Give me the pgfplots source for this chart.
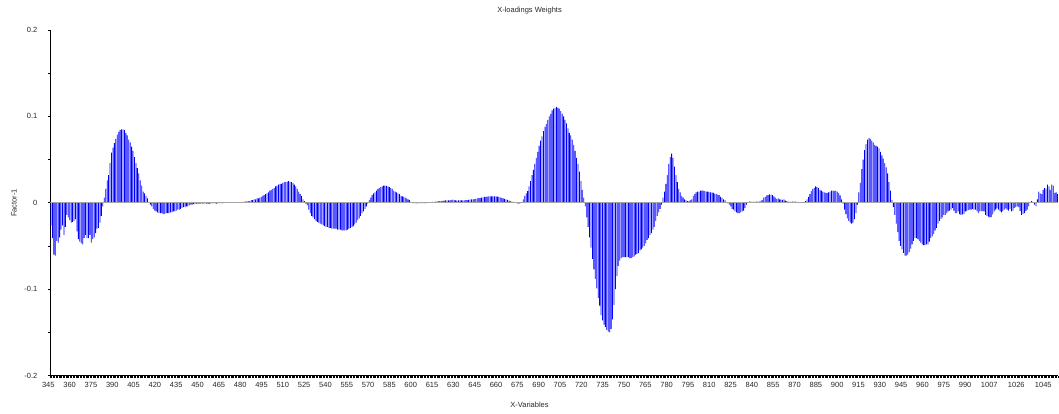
\documentclass[border=0pt]{standalone}
\usepackage{pgfplots}
\pgfplotsset{compat=1.18}
\usepackage{pgfplotstable}
\usepackage{fontspec}
\setmainfont{Liberation Sans}
\definecolor{txt}{RGB}{40,40,40}
\definecolor{zeroline}{RGB}{165,165,165}
\pgfplotstableread[row sep=\\, header=false]{
-0.026\\ -0.041\\ -0.060\\ -0.061\\ -0.044\\ -0.046\\ -0.040\\ -0.031\\ -0.026\\ -0.037\\
-0.028\\ -0.014\\ -0.017\\ -0.020\\ -0.023\\ -0.022\\ -0.021\\ -0.019\\ -0.033\\ -0.042\\
-0.045\\ -0.047\\ -0.048\\ -0.041\\ -0.037\\ -0.041\\ -0.041\\ -0.037\\ -0.046\\ -0.042\\
-0.040\\ -0.035\\ -0.030\\ -0.029\\ -0.023\\ -0.015\\ -0.004\\ 0.006\\ 0.016\\ 0.026\\
0.032\\ 0.046\\ 0.058\\ 0.064\\ 0.069\\ 0.074\\ 0.079\\ 0.082\\ 0.084\\ 0.085\\
0.085\\ 0.084\\ 0.081\\ 0.078\\ 0.073\\ 0.070\\ 0.065\\ 0.060\\ 0.053\\ 0.046\\
0.040\\ 0.034\\ 0.026\\ 0.020\\ 0.013\\ 0.011\\ 0.008\\ 0.005\\ 0.001\\ -0.002\\
-0.004\\ -0.007\\ -0.009\\ -0.010\\ -0.011\\ -0.012\\ -0.012\\ -0.012\\ -0.013\\ -0.013\\
-0.012\\ -0.012\\ -0.012\\ -0.011\\ -0.011\\ -0.010\\ -0.010\\ -0.009\\ -0.008\\ -0.008\\
-0.007\\ -0.006\\ -0.005\\ -0.005\\ -0.004\\ -0.004\\ -0.003\\ -0.002\\ -0.002\\ -0.0015\\
-0.0015\\ -0.001\\ -0.001\\ -0.001\\ -0.001\\ -0.001\\ -0.0008\\ -0.0008\\ -0.001\\ -0.0012\\
-0.001\\ -0.0008\\ -0.0006\\ -0.0005\\ -0.0008\\ -0.001\\ -0.0008\\ -0.0005\\ -0.0004\\ -0.0003\\
-0.0003\\ -0.0002\\ 0.0002\\ 0.0003\\ 0.0004\\ 0.0003\\ 0.0004\\ 0.0005\\ 0.0006\\ 0.0006\\
0.0007\\ 0.0008\\ 0.0009\\ 0.001\\ 0.0012\\ 0.0014\\ 0.0016\\ 0.002\\ 0.002\\ 0.003\\
0.003\\ 0.004\\ 0.004\\ 0.005\\ 0.005\\ 0.006\\ 0.007\\ 0.008\\ 0.009\\ 0.010\\
0.011\\ 0.012\\ 0.014\\ 0.015\\ 0.016\\ 0.017\\ 0.019\\ 0.020\\ 0.021\\ 0.022\\
0.022\\ 0.023\\ 0.024\\ 0.024\\ 0.0245\\ 0.025\\ 0.0245\\ 0.024\\ 0.023\\ 0.021\\
0.019\\ 0.016\\ 0.013\\ 0.010\\ 0.008\\ 0.004\\ 0.002\\ -0.001\\ -0.003\\ -0.008\\
-0.012\\ -0.015\\ -0.017\\ -0.019\\ -0.021\\ -0.022\\ -0.023\\ -0.024\\ -0.025\\ -0.026\\
-0.027\\ -0.028\\ -0.028\\ -0.029\\ -0.029\\ -0.030\\ -0.030\\ -0.030\\ -0.030\\ -0.031\\
-0.031\\ -0.031\\ -0.032\\ -0.032\\ -0.032\\ -0.032\\ -0.031\\ -0.030\\ -0.029\\ -0.028\\
-0.027\\ -0.025\\ -0.023\\ -0.020\\ -0.018\\ -0.015\\ -0.012\\ -0.010\\ -0.007\\ -0.004\\
-0.001\\ 0.003\\ 0.006\\ 0.009\\ 0.011\\ 0.012\\ 0.014\\ 0.016\\ 0.017\\ 0.018\\
0.019\\ 0.020\\ 0.020\\ 0.0195\\ 0.019\\ 0.018\\ 0.017\\ 0.016\\ 0.014\\ 0.013\\
0.012\\ 0.011\\ 0.010\\ 0.008\\ 0.0075\\ 0.007\\ 0.006\\ 0.005\\ 0.004\\ 0.003\\
0.001\\ -0.0003\\ -0.0005\\ -0.0005\\ -0.0006\\ -0.0005\\ -0.0005\\ -0.0004\\ -0.0005\\ -0.0005\\
-0.0004\\ -0.0003\\ -0.0002\\ 0.0003\\ 0.0008\\ 0.001\\ 0.0012\\ 0.0013\\ 0.0015\\ 0.0016\\
0.0018\\ 0.002\\ 0.0023\\ 0.0025\\ 0.0027\\ 0.0027\\ 0.0027\\ 0.0028\\ 0.0032\\ 0.0038\\
0.0032\\ 0.0028\\ 0.0026\\ 0.0027\\ 0.0027\\ 0.0027\\ 0.0028\\ 0.0028\\ 0.003\\ 0.0032\\
0.0035\\ 0.0038\\ 0.004\\ 0.004\\ 0.0043\\ 0.0046\\ 0.005\\ 0.0054\\ 0.0058\\ 0.006\\
0.0064\\ 0.0068\\ 0.007\\ 0.0072\\ 0.0073\\ 0.0074\\ 0.0074\\ 0.0074\\ 0.0073\\ 0.0073\\
0.0072\\ 0.0068\\ 0.0062\\ 0.0056\\ 0.005\\ 0.0045\\ 0.004\\ 0.0035\\ 0.0028\\ 0.002\\
0.0014\\ 0.001\\ 0.0005\\ 0.0003\\ -0.0008\\ -0.0012\\ -0.0005\\ 0.0005\\ 0.004\\ 0.008\\
0.011\\ 0.0135\\ 0.019\\ 0.025\\ 0.032\\ 0.038\\ 0.045\\ 0.052\\ 0.059\\ 0.066\\
0.072\\ 0.077\\ 0.083\\ 0.088\\ 0.091\\ 0.096\\ 0.100\\ 0.103\\ 0.107\\ 0.109\\
0.110\\ 0.111\\ 0.110\\ 0.109\\ 0.106\\ 0.103\\ 0.100\\ 0.096\\ 0.092\\ 0.086\\
0.081\\ 0.078\\ 0.073\\ 0.067\\ 0.060\\ 0.052\\ 0.045\\ 0.036\\ 0.025\\ 0.015\\
0.006\\ -0.004\\ -0.017\\ -0.028\\ -0.040\\ -0.052\\ -0.065\\ -0.077\\ -0.088\\ -0.099\\
-0.110\\ -0.119\\ -0.130\\ -0.136\\ -0.141\\ -0.144\\ -0.147\\ -0.149\\ -0.150\\ -0.146\\
-0.135\\ -0.118\\ -0.100\\ -0.085\\ -0.073\\ -0.067\\ -0.064\\ -0.063\\ -0.063\\ -0.063\\
-0.063\\ -0.063\\ -0.064\\ -0.064\\ -0.063\\ -0.062\\ -0.060\\ -0.059\\ -0.058\\ -0.055\\
-0.054\\ -0.052\\ -0.050\\ -0.047\\ -0.043\\ -0.041\\ -0.037\\ -0.035\\ -0.031\\ -0.028\\
-0.021\\ -0.015\\ -0.011\\ -0.007\\ -0.002\\ 0.006\\ 0.013\\ 0.022\\ 0.032\\ 0.045\\
0.053\\ 0.057\\ 0.052\\ 0.042\\ 0.032\\ 0.024\\ 0.016\\ 0.012\\ 0.008\\ 0.006\\
0.004\\ 0.003\\ 0.002\\ 0.002\\ 0.003\\ 0.004\\ 0.008\\ 0.010\\ 0.012\\ 0.013\\
0.013\\ 0.014\\ 0.014\\ 0.014\\ 0.0135\\ 0.013\\ 0.013\\ 0.0125\\ 0.012\\ 0.012\\
0.0115\\ 0.0105\\ 0.010\\ 0.0095\\ 0.009\\ 0.007\\ 0.006\\ 0.004\\ 0.003\\ 0.001\\
-0.0005\\ -0.002\\ -0.004\\ -0.007\\ -0.008\\ -0.010\\ -0.011\\ -0.012\\ -0.012\\ -0.011\\
-0.010\\ -0.009\\ -0.006\\ -0.002\\ 0.0005\\ 0.0015\\ 0.0015\\ 0.001\\ 0.001\\ 0.0012\\
0.0015\\ 0.0015\\ 0.0015\\ 0.0025\\ 0.0035\\ 0.006\\ 0.007\\ 0.0085\\ 0.009\\ 0.0097\\
0.0095\\ 0.009\\ 0.0075\\ 0.006\\ 0.0046\\ 0.005\\ 0.004\\ 0.0038\\ 0.0035\\ 0.004\\
0.0025\\ 0.002\\ 0.0015\\ 0.001\\ 0.0012\\ 0.0015\\ 0.0015\\ 0.0015\\ 0.001\\ 0.0005\\
0.0005\\ 0.0005\\ 0.0005\\ 0.001\\ 0.002\\ 0.004\\ 0.007\\ 0.010\\ 0.0135\\ 0.016\\
0.017\\ 0.019\\ 0.018\\ 0.017\\ 0.015\\ 0.014\\ 0.013\\ 0.012\\ 0.0115\\ 0.0115\\
0.012\\ 0.013\\ 0.014\\ 0.014\\ 0.0135\\ 0.014\\ 0.013\\ 0.0115\\ 0.0085\\ 0.004\\
-0.001\\ -0.008\\ -0.013\\ -0.018\\ -0.021\\ -0.023\\ -0.024\\ -0.023\\ -0.019\\ -0.012\\
-0.002\\ 0.012\\ 0.023\\ 0.039\\ 0.050\\ 0.061\\ 0.068\\ 0.073\\ 0.075\\ 0.074\\
0.072\\ 0.070\\ 0.067\\ 0.066\\ 0.065\\ 0.063\\ 0.059\\ 0.055\\ 0.051\\ 0.046\\
0.041\\ 0.034\\ 0.024\\ 0.014\\ 0.003\\ -0.005\\ -0.014\\ -0.024\\ -0.034\\ -0.044\\
-0.050\\ -0.054\\ -0.058\\ -0.061\\ -0.061\\ -0.060\\ -0.057\\ -0.053\\ -0.048\\ -0.044\\
-0.041\\ -0.041\\ -0.042\\ -0.044\\ -0.046\\ -0.048\\ -0.049\\ -0.049\\ -0.048\\ -0.048\\
-0.045\\ -0.041\\ -0.039\\ -0.036\\ -0.032\\ -0.029\\ -0.024\\ -0.021\\ -0.019\\ -0.017\\
-0.014\\ -0.014\\ -0.012\\ -0.010\\ -0.009\\ -0.008\\ -0.006\\ -0.009\\ -0.012\\ -0.012\\
-0.010\\ -0.013\\ -0.014\\ -0.0135\\ -0.013\\ -0.010\\ -0.0097\\ -0.0085\\ -0.008\\ -0.008\\
-0.007\\ -0.008\\ -0.008\\ -0.0097\\ -0.012\\ -0.010\\ -0.0097\\ -0.0097\\ -0.010\\ -0.014\\
-0.015\\ -0.016\\ -0.017\\ -0.0165\\ -0.0135\\ -0.010\\ -0.008\\ -0.0065\\ -0.008\\ -0.0097\\
-0.011\\ -0.0097\\ -0.008\\ -0.0065\\ -0.008\\ -0.009\\ -0.007\\ -0.010\\ -0.009\\ -0.006\\
-0.005\\ -0.004\\ -0.005\\ -0.0097\\ -0.014\\ -0.013\\ -0.012\\ -0.0097\\ -0.008\\ -0.004\\
0.000\\ 0.002\\ 0.000\\ -0.002\\ -0.004\\ 0.004\\ 0.013\\ 0.011\\ 0.010\\ 0.015\\
0.017\\ 0.0165\\ 0.021\\ 0.019\\ 0.015\\ 0.021\\ 0.020\\ 0.0115\\ 0.012\\ 0.010\\
}\loadings
\begin{document}
\begin{tikzpicture}
\useasboundingbox (0,0) rectangle (1059bp,414bp);
\begin{axis}[
  at={(50.3bp,38.4bp)}, anchor=south west,
  scale only axis, width=1008bp, height=345.6bp,
  xmin=345, xmax=1054.2, ymin=-0.2, ymax=0.2,
  axis x line*=bottom, axis y line*=left,
  axis line style={black, line width=0.8bp},
  tick align=outside,
  tick style={black, line width=0.6bp},
  major tick length=2.5bp, minor tick length=2.5bp,
  xtick={345,360,...,990,1007,1026,1045},
  xticklabels={345,360,375,390,405,420,435,450,465,480,495,510,525,540,555,570,585,600,615,630,645,660,675,690,705,720,735,750,765,780,795,810,825,840,855,870,885,900,915,930,945,960,975,990,1007,1026,1045},
  minor xtick={345,346,...,1054},
  ytick={-0.2,-0.1,0,0.1,0.2},
  yticklabels={-0.2,-0.1,0,0.1,0.2},
  minor ytick={-0.15,-0.05,0.05,0.15},
  ticklabel style={font=\fontsize{7.5bp}{9bp}\selectfont, text=txt},
  xticklabel style={xshift=-2bp, yshift=-1bp},
  yticklabel style={xshift=-7bp},
  title={X-loadings Weights},
  title style={font=\fontsize{7.5bp}{9bp}\selectfont, text=txt, at={(axis description cs:0.4754,1.038)}, anchor=center},
  xlabel={X-Variables},
  xlabel style={font=\fontsize{7.5bp}{9bp}\selectfont, text=txt, at={(axis description cs:0.4754,-0.085)}, anchor=center},
  ylabel={Factor-1},
  ylabel style={font=\fontsize{7.5bp}{9bp}\selectfont, text=txt, at={(axis description cs:-0.036,0.5)}, anchor=center, rotate=0},
  clip=false,
]
\addplot[ybar, bar width=0.8bp, fill=blue, draw=none] table[x expr={345.49+1.01308*\coordindex}, y index=0] {\loadings};
\addplot[zeroline, line width=1.4bp, sharp plot, no marks, forget plot] coordinates {(345,0) (1054.2,0)};
\end{axis}
\end{tikzpicture}
\end{document}
